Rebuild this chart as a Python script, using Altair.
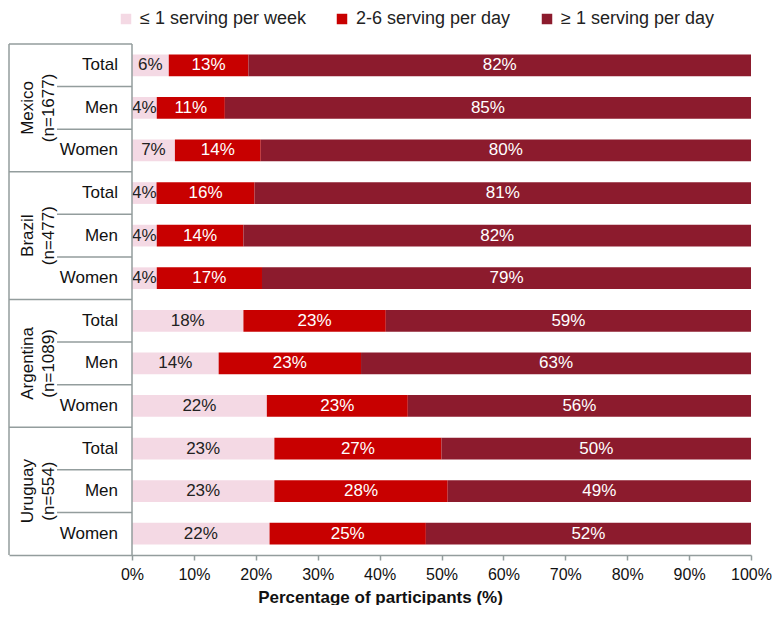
import altair as alt
import pandas as pd

# ---- data ----
countries = ["Mexico", "Brazil", "Argentina", "Uruguay"]
sample_sizes = ["(n=1677)", "(n=477)", "(n=1089)", "(n=554)"]
subgroups = ["Total", "Men", "Women"]
categories = ["≤ 1 serving per week", "2-6 serving per day", "≥ 1 serving per day"]
colors = ["#F4D9E4", "#C80000", "#8C1B2D"]

# rows: Mexico T/M/W, Brazil T/M/W, Argentina T/M/W, Uruguay T/M/W
weekly = [6, 4, 7, 4, 4, 4, 18, 14, 22, 23, 23, 22]
few_daily = [13, 11, 14, 16, 14, 17, 23, 23, 23, 27, 28, 25]
daily = [82, 85, 80, 81, 82, 79, 59, 63, 56, 50, 49, 52]
x_ticks = [0, 0.1, 0.2, 0.3, 0.4, 0.5, 0.6, 0.7, 0.8, 0.9, 1.0]

FONT = "Liberation Sans"
LINE = "#939D9D"
PX = 619.0                  # pixels per 100%
LEFT = 123.0                # pixels from plot edge to 0%
X_MIN = -LEFT / PX
SUB_LINE_START = -(131 - 56) / PX
SUB_LABEL_X = -14 / PX
COUNTRY_X = -(131 - 27) / PX
PLOT_W = LEFT + PX

series = [weekly, few_daily, daily]
bar_rows = []
for i in range(12):
    for k, cat in enumerate(categories):
        v = series[k][i]
        bar_rows.append({"row": i, "cat": cat, "order": k, "value": v, "label": f"{v}%"})
bars_df = pd.DataFrame(bar_rows)

sub_df = pd.DataFrame({"row": list(range(12)),
                       "label": [subgroups[i % 3] for i in range(12)]})
country_df = pd.DataFrame({"gc": [g * 3 + 1.5 for g in range(4)],
                           "label": [f"{c}\n{n}" for c, n in zip(countries, sample_sizes)]})

rule_rows = []
for b in range(12):
    if b % 3 == 0:
        rule_rows.append({"y": b, "xa": X_MIN, "xb": 0})
    else:
        rule_rows.append({"y": b, "xa": SUB_LINE_START, "xb": 0})
rules_df = pd.DataFrame(rule_rows)
vlines_df = pd.DataFrame({"x": [X_MIN, 0], "ya": [0, 0], "yb": [12, 12]})

x_axis = alt.Axis(values=x_ticks, format=".0%", title="Percentage of participants (%)",
                  grid=False, domainColor=LINE, domainWidth=1.5, tickColor=LINE,
                  tickWidth=1.5, tickSize=5, labelFont=FONT, labelFontSize=16,
                  labelColor="#111", labelPadding=6, titleFont=FONT, titleFontSize=17,
                  titleFontWeight="bold", titleColor="#111", titlePadding=7,
                  labelFlush=False)
x_scale = alt.Scale(domain=[X_MIN, 1], nice=False, zero=False)
y_scale = alt.Scale(domain=[0, 12], nice=False, zero=False, reverse=True)


def X(field, **kw):
    return alt.X(field, type="quantitative", scale=x_scale, axis=x_axis, **kw)


def XD(value):
    return alt.X(datum=value, type="quantitative", scale=x_scale, axis=x_axis)


def Y(field, **kw):
    return alt.Y(field, type="quantitative", scale=y_scale, axis=None, **kw)


base = (
    alt.Chart(bars_df)
    .transform_joinaggregate(total="sum(value)", groupby=["row"])
    .transform_window(cum="sum(value)", groupby=["row"],
                      sort=[alt.SortField("order")], frame=[None, 0])
    .transform_calculate(x0="(datum.cum - datum.value) / datum.total")
    .transform_calculate(x1="datum.cum / datum.total")
    .transform_calculate(xm="(datum.x0 + datum.x1) / 2")
    .transform_calculate(y0="datum.row + 0.245")
    .transform_calculate(y1="datum.row + 0.755")
    .transform_calculate(ym="datum.row + 0.5")
)

bar_layer = base.mark_rect().encode(
    x=X("x0"), x2="x1", y=Y("y0"), y2="y1",
    color=alt.Color("cat:N", scale=alt.Scale(domain=categories, range=colors),
                    legend=alt.Legend(title=None, orient="none", legendX=108, legendY=-34,
                                      direction="horizontal", symbolType="square",
                                      symbolSize=110, symbolStrokeWidth=0,
                                      labelFont=FONT, labelFontSize=18, labelColor="#222",
                                      labelLimit=400, columnPadding=27, labelOffset=5,
                                      padding=0)),
)

text_layer = base.mark_text(font=FONT, fontSize=17, align="center", baseline="middle").encode(
    x=X("xm"), y=Y("ym"), text="label:N",
    color=alt.condition(alt.datum.order == 0, alt.value("#222"), alt.value("white")),
)

sub_layer = alt.Chart(sub_df).transform_calculate(ym="datum.row + 0.5").mark_text(
    font=FONT, fontSize=17, align="right", baseline="middle", color="#111"
).encode(x=XD(SUB_LABEL_X), y=Y("ym"), text="label:N")

country_layer = alt.Chart(country_df).mark_text(
    font=FONT, fontSize=17, align="center", baseline="middle", angle=270,
    lineBreak="\n", lineHeight=21, color="#111"
).encode(x=XD(COUNTRY_X), y=Y("gc"), text="label:N")

hrule_layer = alt.Chart(rules_df).mark_rule(color=LINE, strokeWidth=1.5).encode(
    x=X("xa"), x2="xb", y=Y("y"))

vrule_layer = alt.Chart(vlines_df).mark_rule(color=LINE, strokeWidth=1.5).encode(
    x=X("x"), y=Y("ya"), y2="yb")

chart = alt.layer(
    bar_layer, text_layer, hrule_layer, vrule_layer, sub_layer, country_layer
).properties(
    width=PLOT_W, height=511,
    padding={"top": 2, "left": 0, "right": 0, "bottom": 0},
).configure_view(stroke=None)

chart.save("out.html", embed_options={"renderer": "svg", "actions": False})
